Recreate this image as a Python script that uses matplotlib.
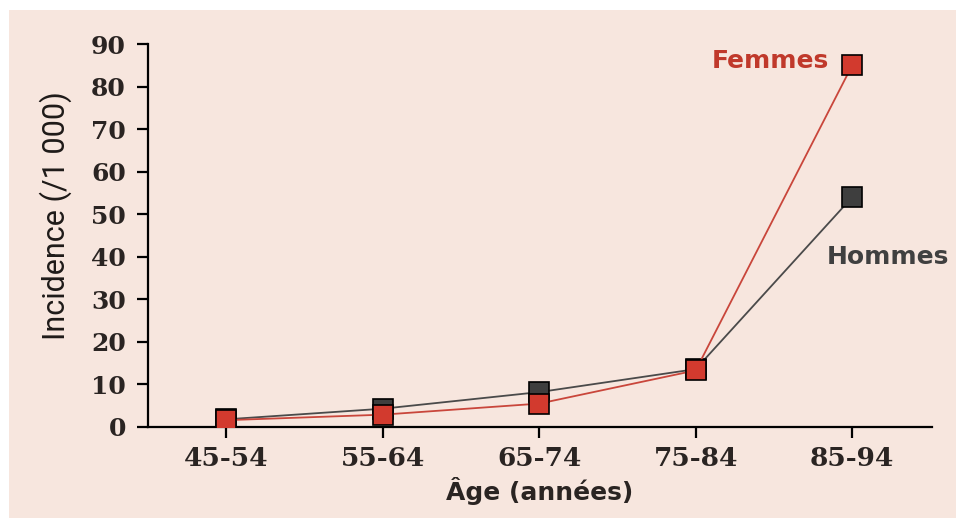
import matplotlib.pyplot as plt
from matplotlib.patches import Rectangle

# Data
ages = ["45-54", "55-64", "65-74", "75-84", "85-94"]
hommes = [1.8, 4.3, 8.2, 13.6, 54.0]
femmes = [1.6, 2.9, 5.5, 13.3, 85.0]
yticks = [0, 10, 20, 30, 40, 50, 60, 70, 80, 90]

bg = "#f7e6de"
red = "#d23a2e"
red_line = "#c9463b"
grey = "#3e3e3e"
grey_line = "#4a4a4a"
text_dark = "#2a2422"

fig = plt.figure(figsize=(9.56, 5.18), dpi=100)
fig.patch.set_facecolor("white")
# peach panel
fig.patches.append(Rectangle((9 / 956, 0), 1, 1 - 10 / 518, transform=fig.transFigure,
                             facecolor=bg, edgecolor="none", zorder=-1))

ax = fig.add_axes([148 / 956, 1 - 427 / 518, (932 - 148) / 956, (427 - 44) / 518])
ax.set_facecolor("none")

x = range(len(ages))
ax.plot(x, hommes, color=grey_line, lw=1.3, marker="s", ms=14,
        mfc=grey, mec="black", mew=1.2, zorder=3)
ax.plot(x, femmes, color=red_line, lw=1.3, marker="s", ms=14,
        mfc=red, mec="black", mew=1.2, zorder=4)

ax.set_xlim(-0.5, 4.51)
ax.set_ylim(0, 90)
ax.set_xticks(list(x))
ax.set_xticklabels(ages)
ax.set_yticks(yticks)

for s in ["top", "right"]:
    ax.spines[s].set_visible(False)
for s in ["left", "bottom"]:
    ax.spines[s].set_linewidth(1.6)
    ax.spines[s].set_color("black")

ax.tick_params(axis="both", length=8, width=1.6, color="black")
ax.tick_params(axis="y", pad=8)
ax.tick_params(axis="x", pad=6)
for lab in ax.get_xticklabels():
    lab.set_fontfamily("DejaVu Serif")
    lab.set_fontweight("bold")
    lab.set_fontsize(19)
    lab.set_color(text_dark)
for lab in ax.get_yticklabels():
    lab.set_fontfamily("DejaVu Serif")
    lab.set_fontweight("bold")
    lab.set_fontsize(18)
    lab.set_color(text_dark)

ax.set_ylabel("Incidence (/1 000)", fontsize=22, family="Roboto", color="#1e1a18")
ax.yaxis.set_label_coords(-0.097, 0.553)
ax.set_xlabel("Âge (années)", fontsize=18, family="DejaVu Sans", fontweight="bold",
              color=text_dark, labelpad=4)

ax.text(3.85, femmes[4] + 1.0, "Femmes", color="#c0392b", fontsize=18, family="DejaVu Sans",
        fontweight="bold", ha="right", va="center")
ax.text(4.62, 40, "Hommes", color="#404040", fontsize=18, family="DejaVu Sans",
        fontweight="bold", ha="right", va="center", clip_on=False)

fig.savefig("out.png", dpi=100, facecolor=fig.get_facecolor())
